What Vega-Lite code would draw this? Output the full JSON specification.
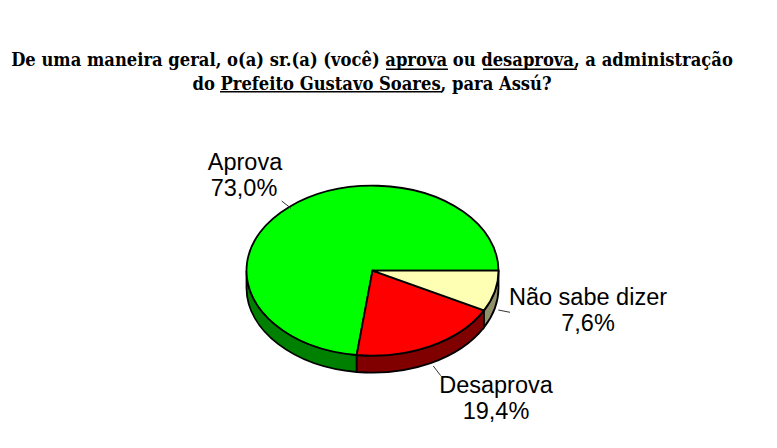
{
  "$schema": "https://vega.github.io/schema/vega-lite/v6.json",
  "width": 777,
  "height": 448,
  "padding": 0,
  "autosize": {"type": "none"},
  "background": "white",
  "config": {
    "view": {"stroke": null},
    "locale": {"number": {"decimal": ",", "thousands": ".", "grouping": [3], "currency": ["R$", ""]}}
  },
  "datasets": {
    "slices": [
      {"slice": "Aprova", "share": 0.73},
      {"slice": "Desaprova", "share": 0.194},
      {"slice": "Não sabe dizer", "share": 0.076}
    ],
    "heading": [
      {"line": 1, "text": "De uma maneira geral, o(a) sr.(a) (você) aprova ou desaprova, a administração"},
      {"line": 2, "text": "do Prefeito Gustavo Soares, para Assú?"}
    ],
    "underlined": [
      {"phrase": "aprova"},
      {"phrase": "desaprova"},
      {"phrase": "Prefeito Gustavo Soares"}
    ]
  },
  "layer": [
    {
      "data": {"name": "underlined"},
      "mark": {"type": "point", "size": 4, "filled": false, "opacity": 1, "stroke": "black", "strokeWidth": 1.5},
      "encoding": {
        "x": {"datum": 0, "type": "quantitative", "scale": {"domain": [-372.5, 404.5]}, "axis": null},
        "y": {"datum": 0, "type": "quantitative", "scale": {"domain": [177.3, -270.7]}, "axis": null},
        "shape": {
          "field": "phrase",
          "type": "nominal",
          "legend": null,
          "scale": {
            "domain": ["aprova", "desaprova", "Prefeito Gustavo Soares"],
            "range": ["M13.5 -201.5H75.5", "M110.5 -201.5H204.5", "M-152.5 -179H69.5"]
          }
        }
      }
    },
    {
      "data": {"name": "heading"},
      "mark": {"type": "text", "font": "DejaVu Serif Condensed", "fontWeight": "bold", "fontSize": 18.2, "align": "center", "baseline": "alphabetic", "color": "black"},
      "encoding": {
        "x": {"datum": 0, "type": "quantitative", "scale": {"domain": [-372, 405]}, "axis": null},
        "y": {"field": "line", "type": "quantitative", "scale": {"domain": [1, 2], "range": [65.5, 89.5]}, "axis": null},
        "text": {"field": "text"}
      }
    },
    {
      "data": {"name": "slices"},
      "mark": {"type": "point", "size": 4, "filled": true, "opacity": 1, "stroke": "black", "strokeWidth": 1.8},
      "encoding": {
        "x": {"datum": 0, "type": "quantitative", "scale": {"domain": [-372.5, 404.5]}, "axis": null},
        "y": {"datum": 0, "type": "quantitative", "scale": {"domain": [177.3, -270.7]}, "axis": null},
        "color": {
          "field": "slice",
          "type": "nominal",
          "legend": null,
          "scale": {"domain": ["Aprova", "Desaprova", "Não sabe dizer"], "range": ["#008000", "#800000", "#8F8F6B"]}
        },
        "shape": {
          "field": "slice",
          "type": "nominal",
          "legend": null,
          "scale": {
            "domain": ["Aprova", "Desaprova", "Não sabe dizer"],
            "range": [
              "M-15.8 84.3A126 85 0 0 1 -126 0L-126 17A126 85 0 0 0 -15.8 101.3Z",
              "M111.5 39.7A126 85 0 0 1 -15.8 84.3L-15.8 101.3A126 85 0 0 0 111.5 56.7Z",
              "M126 0A126 85 0 0 1 111.5 39.7L111.5 56.7A126 85 0 0 0 126 17Z"
            ]
          }
        }
      }
    },
    {
      "data": {"name": "slices"},
      "mark": {"type": "point", "size": 4, "filled": true, "opacity": 1, "stroke": "black", "strokeWidth": 1.8},
      "encoding": {
        "x": {"datum": 0, "type": "quantitative", "scale": {"domain": [-372.5, 404.5]}, "axis": null},
        "y": {"datum": 0, "type": "quantitative", "scale": {"domain": [177.3, -270.7]}, "axis": null},
        "color": {
          "field": "slice",
          "type": "nominal",
          "legend": null,
          "scale": {"domain": ["Aprova", "Desaprova", "Não sabe dizer"], "range": ["#00FF00", "#FF0000", "#FFFFB3"]}
        },
        "shape": {
          "field": "slice",
          "type": "nominal",
          "legend": null,
          "scale": {
            "domain": ["Aprova", "Desaprova", "Não sabe dizer"],
            "range": [
              "M0 0L126 0A126 85 0 1 0 -15.8 84.3Z",
              "M0 0L111.5 39.7A126 85 0 0 1 -15.8 84.3Z",
              "M0 0L126 0A126 85 0 0 1 111.5 39.7Z"
            ]
          }
        }
      }
    },
    {
      "data": {"name": "slices"},
      "mark": {"type": "point", "size": 4, "filled": false, "opacity": 1, "stroke": "#333333", "strokeWidth": 1},
      "encoding": {
        "x": {"datum": 0, "type": "quantitative", "scale": {"domain": [-372.5, 404.5]}, "axis": null},
        "y": {"datum": 0, "type": "quantitative", "scale": {"domain": [177.3, -270.7]}, "axis": null},
        "shape": {
          "field": "slice",
          "type": "nominal",
          "legend": null,
          "scale": {
            "domain": ["Aprova", "Desaprova", "Não sabe dizer"],
            "range": ["M-90.8 -69.7L-81.5 -62.4", "M60.8 95.3L68.2 105", "M125.8 39.3L137.5 41.6"]
          }
        }
      }
    },
    {
      "data": {"name": "slices"},
      "mark": {"type": "text", "font": "Liberation Sans", "fontSize": 23.5, "align": "center", "baseline": "alphabetic", "color": "black"},
      "encoding": {
        "x": {"field": "share", "type": "quantitative", "scale": {"domain": [0.076, 0.194, 0.73], "range": [588, 496, 245]}, "axis": null},
        "y": {"field": "share", "type": "quantitative", "scale": {"domain": [0.076, 0.194, 0.73], "range": [304.5, 392.5, 169.5]}, "axis": null},
        "text": {"field": "slice"}
      }
    },
    {
      "data": {"name": "slices"},
      "mark": {"type": "text", "font": "Liberation Sans", "fontSize": 23.5, "align": "center", "baseline": "alphabetic", "color": "black", "dy": 26},
      "encoding": {
        "x": {"field": "share", "type": "quantitative", "scale": {"domain": [0.076, 0.194, 0.73], "range": [588, 496, 244]}, "axis": null},
        "y": {"field": "share", "type": "quantitative", "scale": {"domain": [0.076, 0.194, 0.73], "range": [304.5, 392.5, 169.5]}, "axis": null},
        "text": {"field": "share", "type": "quantitative", "format": ".1%"}
      }
    }
  ],
  "resolve": {
    "scale": {"x": "independent", "y": "independent", "shape": "independent", "color": "independent"}
  }
}
